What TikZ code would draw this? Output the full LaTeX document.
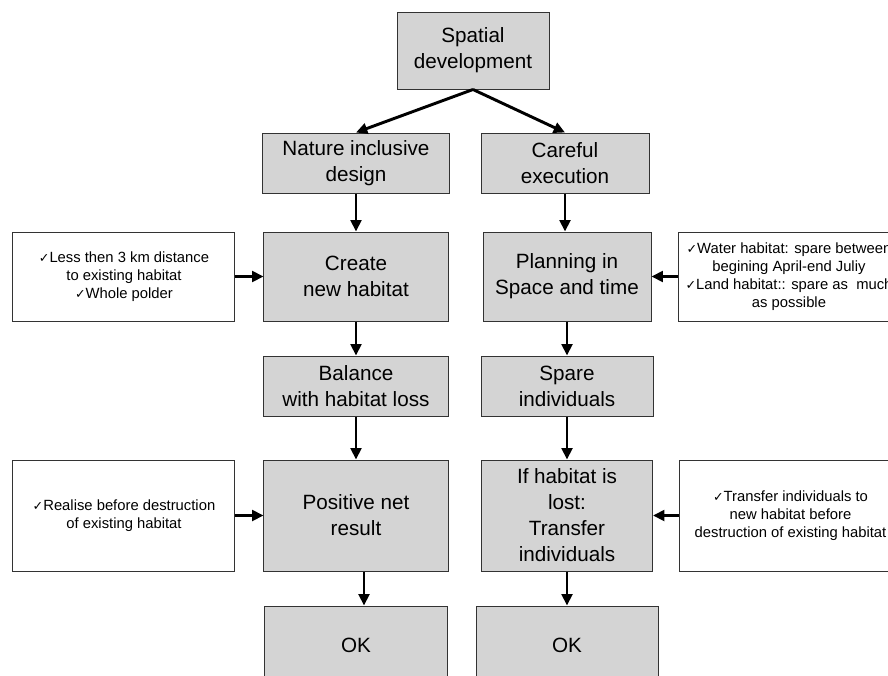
\documentclass[tikz,border=0pt]{standalone}
\usepackage{fontspec}
\setmainfont{Liberation Sans}
\newfontfamily\symfont{DejaVu Sans}
\usetikzlibrary{arrows.meta, positioning}
\newcommand{\chk}{{\symfont\fontsize{9.5}{9.5}\selectfont\symbol{"2713}}}

\begin{document}
\begin{tikzpicture}[
    box/.style={rectangle, draw=black!80, line width=0.75pt, fill=black!17, align=center, inner sep=2pt, font=\fontsize{15.5}{19.5}\selectfont},
    note/.style={rectangle, draw=black!80, line width=0.75pt, fill=white, align=center, inner sep=2pt, minimum width=166.5pt, font=\fontsize{11.1}{13.5}\selectfont},
    arrow/.style={-{Triangle[length=8.5pt, width=8pt]}, line width=2.2pt}
]
    \useasboundingbox (-354.75pt,-468.375pt) rectangle (311.25pt,37.875pt);
    \clip (-354.75pt,-468.375pt) rectangle (311.25pt,37.875pt);

    \node[box, minimum width=114pt, minimum height=57.75pt] (sd) {Spatial\\development};
    \node[box, minimum width=139.5pt, minimum height=45pt, below=32.25pt of sd, xshift=-87.75pt] (nid) {Nature inclusive\\design};
    \node[box, minimum width=126pt, minimum height=45pt, below=32.25pt of sd, xshift=69pt] (ce) {Careful\\execution};

    \node[box, minimum width=138pt, minimum height=66.75pt, below=28.5pt of nid] (cnh) {Create\\new habitat};
    \node[box, minimum width=138.75pt, minimum height=45pt, below=25.5pt of cnh] (bal) {Balance\\with habitat loss};
    \node[box, minimum width=138pt, minimum height=83.25pt, below=32.25pt of bal] (pnr) {Positive net\\result};
    \node[box, minimum width=136.5pt, minimum height=58.5pt, below=25.5pt of pnr] (okl) {OK};

    \node[box, minimum width=126pt, minimum height=66.75pt, below=28.5pt of ce, xshift=1.5pt] (pst) {Planning in\\Space and time};
    \node[box, minimum width=129pt, minimum height=45pt, below=25.5pt of pst] (spi) {Spare\\individuals};
    \node[box, minimum width=128.25pt, minimum height=83.25pt, below=32.25pt of spi] (ifl) {If habitat is\\lost:\\Transfer\\individuals};
    \node[box, minimum width=136.5pt, minimum height=58.5pt, below=25.5pt of ifl] (okr) {OK};

    \node[note, minimum height=66.75pt, left=21pt of cnh] (n1) {\chk Less then 3 km distance\\to existing habitat\\\chk Whole polder};
    \node[note, minimum height=66.75pt, right=19.5pt of pst] (n2) {\chk Water habitat: spare between\\begining April-end Juliy\\\chk Land habitat:: spare as\ \ much\\as possible};
    \node[note, minimum height=83.25pt, left=21pt of pnr] (n3) {\chk Realise before destruction\\of existing habitat};
    \node[note, minimum height=83.25pt, right=19.5pt of ifl] (n4) {\chk Transfer individuals to\\new habitat before\\destruction of existing habitat};

    \draw[arrow] (sd.south) -- (nid.north);
    \draw[arrow] (sd.south) -- (ce.north);
    \draw[arrow] (nid) -- (cnh);
    \draw[arrow] (ce.south) -- (ce.south |- pst.north);
    \draw[arrow] (cnh) -- (bal);
    \draw[arrow] (pst) -- (spi);
    \draw[arrow] (bal) -- (pnr);
    \draw[arrow] (spi) -- (ifl);
    \draw[arrow] ([xshift=6pt]pnr.south) -- ([xshift=6pt]pnr.south |- okl.north);
    \draw[arrow] (ifl) -- (okr);

    \draw[arrow] (n1) -- (cnh);
    \draw[arrow] (n2) -- (pst);
    \draw[arrow] (n3) -- (pnr);
    \draw[arrow] (n4) -- (ifl);
\end{tikzpicture}
\end{document}
